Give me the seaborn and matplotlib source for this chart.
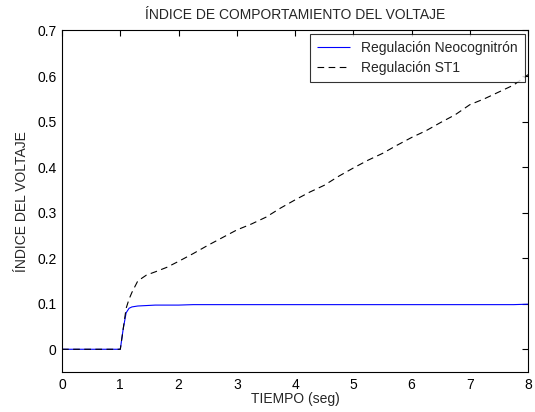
import numpy as np
import pandas as pd
import matplotlib
matplotlib.use("Agg")
import matplotlib.pyplot as plt
import seaborn as sns

# values
tiempo = [0.0, 0.5, 1.0, 1.05, 1.1, 1.15, 1.2, 1.3, 1.45, 1.6, 1.8, 2.0, 2.25, 2.5,
          2.75, 3.0, 3.25, 3.5, 3.75, 4.0, 4.25, 4.5, 4.75, 5.0, 5.25, 5.5, 5.75,
          6.0, 6.25, 6.5, 6.75, 7.0, 7.25, 7.5, 7.75, 8.0]
neocognitron = [0.0, 0.0, 0.0, 0.045, 0.08, 0.09, 0.093, 0.095, 0.096, 0.097, 0.097,
                0.097, 0.098, 0.098, 0.098, 0.098, 0.098, 0.098, 0.098, 0.098, 0.098,
                0.098, 0.098, 0.098, 0.098, 0.098, 0.098, 0.098, 0.098, 0.098, 0.098,
                0.098, 0.098, 0.098, 0.098, 0.099]
st1 = [0.0, 0.0, 0.0, 0.045, 0.09, 0.11, 0.125, 0.15, 0.163, 0.17, 0.18, 0.193,
       0.21, 0.228, 0.245, 0.262, 0.275, 0.29, 0.31, 0.328, 0.345, 0.36, 0.38,
       0.398, 0.415, 0.43, 0.448, 0.465, 0.48, 0.498, 0.515, 0.537, 0.55, 0.565,
       0.58, 0.603]

df = pd.DataFrame({
    "TIEMPO (seg)": tiempo * 2,
    "valor": neocognitron + st1,
    "serie": ["Regulación Neocognitrón"] * len(tiempo) + ["Regulación ST1"] * len(tiempo),
})

sns.set_style("white")
plt.rcParams["font.family"] = ["Liberation Sans", "DejaVu Sans"]
plt.rcParams["font.size"] = 10

fig, ax = plt.subplots(figsize=(5.35, 4.12), dpi=100)
fig.subplots_adjust(left=0.116, right=0.987, top=0.926, bottom=0.097)

sns.lineplot(data=df, x="TIEMPO (seg)", y="valor", hue="serie", style="serie",
             palette=["#0000ff", "black"], dashes=[(1, 0), (6, 4)],
             linewidth=0.8, ax=ax)

ax.set_xlim(0, 8)
ax.set_ylim(-0.05, 0.7)
ax.set_xticks(range(0, 9))
ax.set_yticks([0, 0.1, 0.2, 0.3, 0.4, 0.5, 0.6, 0.7])
ax.set_yticklabels(["0", "0.1", "0.2", "0.3", "0.4", "0.5", "0.6", "0.7"])
ax.tick_params(direction="in", length=4, width=0.8, top=True, right=True,
               labelsize=10, colors="black", pad=4)
for s in ax.spines.values():
    s.set_color("black")
    s.set_linewidth(0.8)

ax.set_title("ÍNDICE DE COMPORTAMIENTO DEL VOLTAJE", fontsize=10, pad=8)
ax.set_xlabel("TIEMPO (seg)", fontsize=10, labelpad=0)
ax.set_ylabel("ÍNDICE DEL VOLTAJE", fontsize=10, labelpad=6)

leg = ax.legend(loc="upper right", title=None, fontsize=10, frameon=True,
                fancybox=False, borderaxespad=0.25, handlelength=2.4,
                borderpad=0.5, labelspacing=0.45)
leg.get_frame().set_edgecolor("black")
leg.get_frame().set_linewidth(0.8)

plt.savefig("out.png", dpi=100)
